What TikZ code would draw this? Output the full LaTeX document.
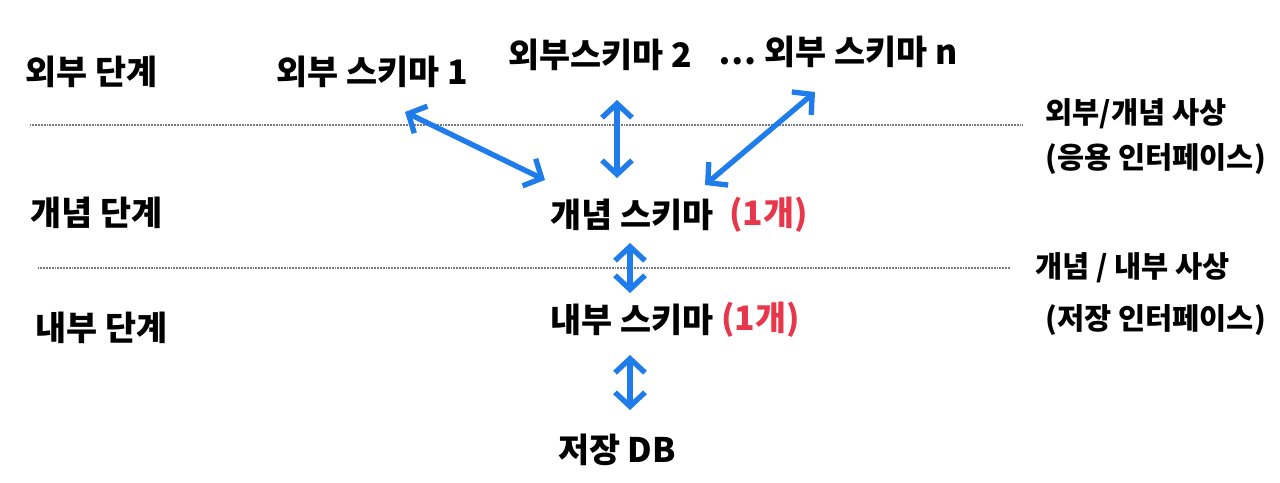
\documentclass[tikz,border=0pt]{standalone}
\usepackage{fontspec}
\setmainfont{Noto Sans CJK KR}
\usetikzlibrary{arrows.meta,positioning}
\definecolor{arrowblue}{HTML}{1E7CEB}
\definecolor{countred}{HTML}{E8364B}
\definecolor{rulegray}{HTML}{7A7A7A}
\tikzset{
  lbl/.style={inner sep=0pt,font=\fontsize{24}{28}\selectfont\bfseries},
  level/.style={lbl,anchor=west},
  mapnote/.style={inner sep=0pt,anchor=west,align=left,font=\fontsize{21}{32}\selectfont\bfseries},
  count/.style={lbl,text=countred},
  biarrow/.style={{Straight Barb[length=3.5mm,width=7.5mm]}-{Straight Barb[length=3.5mm,width=7.5mm]},line width=3.8pt,arrowblue,line cap=round,line join=round},
  divider/.style={rulegray,line width=1.2pt,dash pattern=on 0.6pt off 0.5pt}
}
\begin{document}
\begin{tikzpicture}[x=0.025cm,y=-0.025cm]
    \useasboundingbox (0,0) rectangle (1280,482);

    % levels on the left
    \node[level] (extlvl) at (25,72) {외부 단계};
    \node[level] (conlvl) at (30,213) {개념 단계};
    \node[level] (intlvl) at (35,328) {내부 단계};

    % schemas
    \node[lbl] (ext1) at (372,72) {외부 스키마 1};
    \node[lbl] (ext2) at (600,55) {외부스키마 2};
    \node[lbl] (extn) at (838,52) {… 외부 스키마 n};
    \node[lbl] (concept) at (632,215) {개념 스키마};
    \node[count,right=0.38cm of concept] (conone) {(1개)};
    \node[lbl] (internal) at (632,320) {내부 스키마};
    \node[count,right=0.18cm of internal] (intone) {(1개)};
    \node[lbl] (db) at (617,450) {저장 DB};

    % mappings on the right
    \node[mapnote] (extmap) at (1045,137) {외부/개념 사상\\(응용 인터페이스)};
    \node[mapnote,font=\fontsize{21}{37}\selectfont\bfseries] (intmap) at (1035,294) {개념 / 내부 사상\\\hspace{0.25cm}(저장 인터페이스)};

    % dividers
    \coordinate (d1a) at (30,125);
    \coordinate (d1b) at (1022,125);
    \coordinate (d2a) at (38,268);
    \coordinate (d2b) at (1010,268);
    \draw[divider] (d1a) -- (d1b);
    \draw[divider] (d2a) -- (d2b);

    \draw[biarrow] ([shift={(33,40)}]ext1.center) -- ([shift={(-87,-35)}]concept.center);
    \draw[biarrow] ([shift={(17,45)}]ext2.center) -- ([shift={(-15,-37)}]concept.center);
    \draw[biarrow] ([shift={(-23,40)}]extn.center) -- ([shift={(73,-30)}]concept.center);
    \draw[biarrow] ([shift={(-2,28)}]concept.center) -- ([shift={(-2,-27)}]internal.center);
    \draw[biarrow] ([shift={(-2,35)}]internal.center) -- ([shift={(13,-40)}]db.center);
\end{tikzpicture}
\end{document}
